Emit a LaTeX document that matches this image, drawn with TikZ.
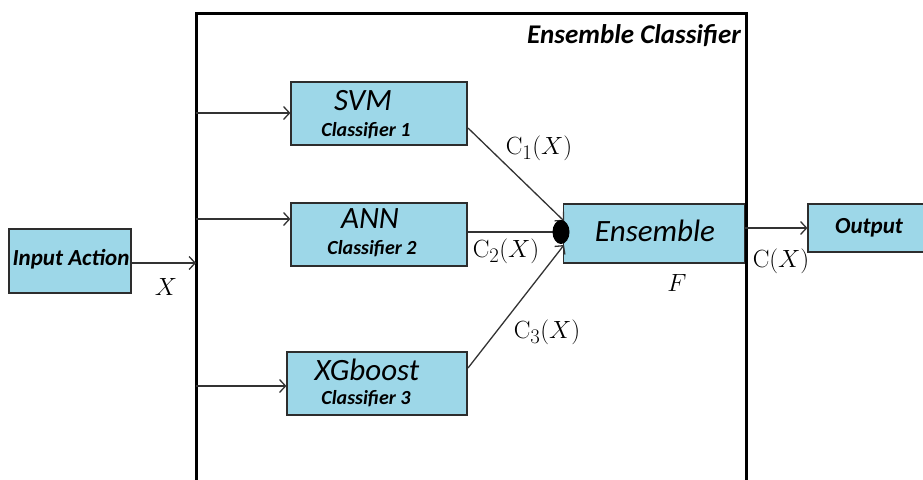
\documentclass[tikz,border=0pt]{standalone}
\usepackage[no-math]{fontspec}
\setmainfont{Carlito}
\usetikzlibrary{arrows.meta,calc,shapes.geometric}
\definecolor{boxfill}{RGB}{157,215,232}
\definecolor{boxedge}{RGB}{45,45,45}
\begin{document}
\begin{tikzpicture}[x=1pt,y=-1pt,
  block/.style={draw=boxedge,line width=1.2pt,fill=boxfill,inner sep=0pt,
    minimum width=#1,anchor=center},
  block/.default=177pt,
  link/.style={line width=1.3pt,draw=black!80,
    -{Straight Barb[length=6pt,width=13pt,line width=1.3pt]}},
  big/.style={font=\fontsize{31}{33}\selectfont\itshape,inner sep=0pt},
  small/.style={font=\fontsize{20}{22}\selectfont\bfseries\itshape,inner sep=0pt},
  mathlbl/.style={font=\fontsize{31}{33}\selectfont,inner sep=0pt},
  blob/.style={fill=black,ellipse,minimum width=17pt,minimum height=24pt,inner sep=0pt}]
\useasboundingbox (0,0) rectangle (923,479);

% outer frame of the ensemble stage
\draw[line width=3pt] (196,485) -- (196,13) -- (746,13) -- (746,485);
\node[font=\fontsize{27}{29}\selectfont\bfseries\itshape,anchor=east,inner sep=0pt] (title) at (741,36) {Ensemble Classifier};

% input and output blocks
\node[block=122pt,minimum height=64pt] (inp) at (70,261) {};
\node[font=\fontsize{23}{25}\selectfont\bfseries\itshape,inner sep=0pt] (inptxt) at (71,259) {Input Action};
\node[block=122pt,minimum height=48pt] (outbox) at (869,228) {};
\node[font=\fontsize{23}{25}\selectfont\bfseries\itshape,inner sep=0pt] (outtxt) at (869,228) {Output};

% base classifiers
\node[block=176pt,minimum height=63pt] (svm) at (379,113.5) {};
\node[big] (svmt) at (363,101) {SVM};
\node[small] (svmc) at (366,131) {Classifier 1};

\node[block=176pt,minimum height=63pt] (ann) at (379,234.5) {};
\node[big] (annt) at (370,219) {ANN};
\node[small] (annc) at (372,249) {Classifier 2};

\node[block=180pt,minimum height=63pt] (xgb) at (377,383.5) {};
\node[big] (xgbt) at (367,370) {XGboost};
\node[small] (xgbc) at (366,399) {Classifier 3};

% combiner
\node[block=181pt,minimum height=59pt] (ens) at (654,233.5) {};
\node[big] (enst) at (655,231) {Ensemble};
\coordinate (dot) at (561,232);

% distribution bus
\coordinate (busin) at (196,263);
\coordinate (b1) at (196,113);
\coordinate (b2) at (196,219);
\coordinate (b3) at (196,386);
\draw[link] (inp.east |- busin) -- (busin);
\draw[link] (b1) -- (svm.west |- b1);
\draw[link] (b2) -- (ann.west |- b2);
\draw[link] (b3) -- (xgb.west |- b3);

% classifier outputs into the combiner
\coordinate (s1) at (468,128);
\coordinate (s3) at (468,368);
\draw[link] (s1) -- ($(dot)+(3,-11)$);
\draw[link] (ann.east |- dot) -- ($(dot)+(3,0)$);
\draw[link] (s3) -- ($(dot)+(3,13)$);
\node[blob] (dotmark) at (dot) {};

% final decision
\draw[link] (ens.east |- outbox) -- (outbox.west);

% labels
\node[mathlbl] (lx) at (166,287) {$X$};
\node[mathlbl] (l1) at (539,148) {$\mathrm{C}_1(X)$};
\node[mathlbl] (l2) at (506,251) {$\mathrm{C}_2(X)$};
\node[mathlbl] (l3) at (547,332) {$\mathrm{C}_3(X)$};
\node[mathlbl] (lc) at (781,261) {$\mathrm{C}(X)$};
\node[mathlbl] (lf) at (677,283) {$F$};
\end{tikzpicture}
\end{document}
